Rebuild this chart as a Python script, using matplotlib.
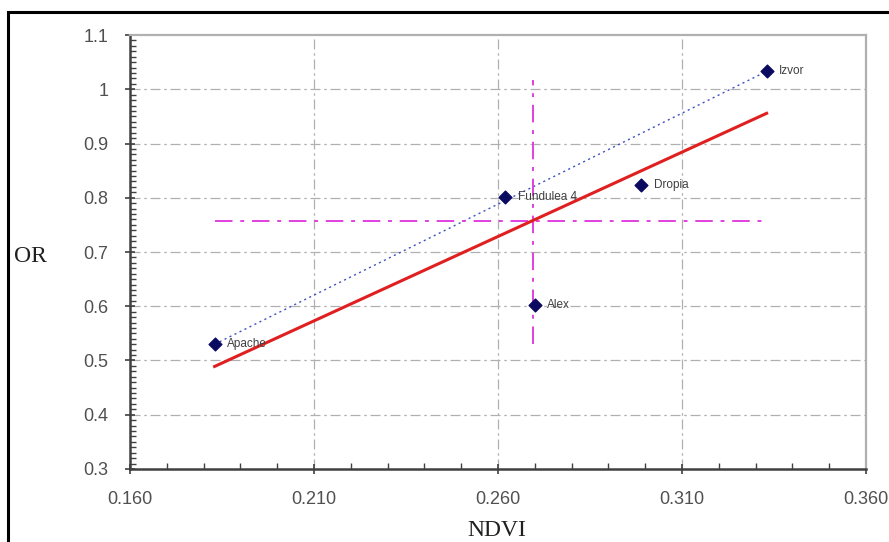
#!/usr/bin/env python3
"""OR vs NDVI scatter for five cultivars, with regression line and mean cross-hairs."""

import matplotlib
matplotlib.use('Agg')
import matplotlib.pyplot as plt
import numpy as np
from matplotlib.patches import Rectangle
from matplotlib.ticker import MultipleLocator, FormatStrFormatter

# data
cultivars = ['Apache', 'Fundulea 4', 'Alex', 'Dropia', 'Izvor']
ndvi = [0.183, 0.262, 0.270, 0.299, 0.333]
orv = [0.530, 0.801, 0.602, 0.823, 1.033]
x_ticks = [0.160, 0.210, 0.260, 0.310, 0.360]
y_ticks = [0.3, 0.4, 0.5, 0.6, 0.7, 0.8, 0.9, 1.0, 1.1]

x = np.array(ndvi)
y = np.array(orv)

fig = plt.figure(figsize=(8.89, 5.42), dpi=100)
ax = fig.add_axes([0.1462, 0.1347, 0.8279, 0.8007])

# figure frame
fig.patches.append(Rectangle((8 / 889, -0.05), 1.2, 1 - 12 / 542 + 0.05,
                             transform=fig.transFigure, fill=False,
                             edgecolor='black', linewidth=2.2))

grid_kw = dict(color='#b0b0b0', linewidth=0.9, linestyle=(0, (8, 3, 2, 3)), zorder=0)
for xv in x_ticks[1:-1]:
    ax.axvline(xv, **grid_kw)
for yv in y_ticks[1:-1]:
    ax.axhline(yv, **grid_kw)

# straight line Apache -> Izvor (dotted blue)
ax.plot([x[0], x[-1]], [y[0], y[-1]], color='#4050c0', linewidth=1.0,
        linestyle=(0, (1.5, 2.5)), zorder=2)

# least-squares regression line over the data range
k, b = np.polyfit(x, y, 1)
xs = np.array([x.min(), x.max()])
ax.plot(xs, k * xs + b, color='#e02020', linewidth=2.2, zorder=3)

# mean cross-hairs
mag_kw = dict(color='#e040e0', linewidth=1.4, linestyle=(0, (9, 4, 2, 4)), zorder=2)
ax.plot([x.min(), x.max()], [y.mean(), y.mean()], **mag_kw)
ax.plot([x.mean(), x.mean()], [y.min(), 1.017], **mag_kw)

ax.scatter(x, y, marker='D', s=42, color='#0a0a60', zorder=4)
for name, xi, yi in zip(cultivars, x, y):
    ax.annotate(name, (xi, yi), xytext=(9, 0), textcoords='offset points',
                va='center', ha='left', fontsize=8.5, color='#404040',
                family='Liberation Sans', zorder=5)

ax.set_xlim(0.160, 0.360)
ax.set_ylim(0.3, 1.1)
ax.set_xticks(x_ticks)
ax.set_yticks(y_ticks)
ax.xaxis.set_major_formatter(FormatStrFormatter('%.3f'))
ax.set_yticklabels(['0.3', '0.4', '0.5', '0.6', '0.7', '0.8', '0.9', '1', '1.1'])
ax.xaxis.set_minor_locator(MultipleLocator(0.01))
ax.yaxis.set_minor_locator(MultipleLocator(0.01))
ax.tick_params(which='major', direction='inout', length=7, width=1.2,
               color='#404040', labelsize=13, labelcolor='#505050')
ax.tick_params(which='minor', direction='in', length=4, width=1.0, color='#404040')
ax.tick_params(axis='x', pad=12)
ax.tick_params(axis='y', pad=12)
for lab in ax.get_xticklabels() + ax.get_yticklabels():
    lab.set_family('Liberation Sans')

for side in ('left', 'bottom'):
    ax.spines[side].set_color('#404040')
    ax.spines[side].set_linewidth(1.8)
for side in ('top', 'right'):
    ax.spines[side].set_color('#b0b0b0')
    ax.spines[side].set_linewidth(1.6)

fig.text(30 / 889, 1 - 257 / 542, 'OR', family='Liberation Serif', fontsize=17,
         color='#202020', ha='center', va='center')
fig.text(497 / 889, 1 - 530 / 542, 'NDVI', family='Liberation Serif', fontsize=17,
         color='#202020', ha='center', va='center')

fig.savefig('out.png', dpi=100)
